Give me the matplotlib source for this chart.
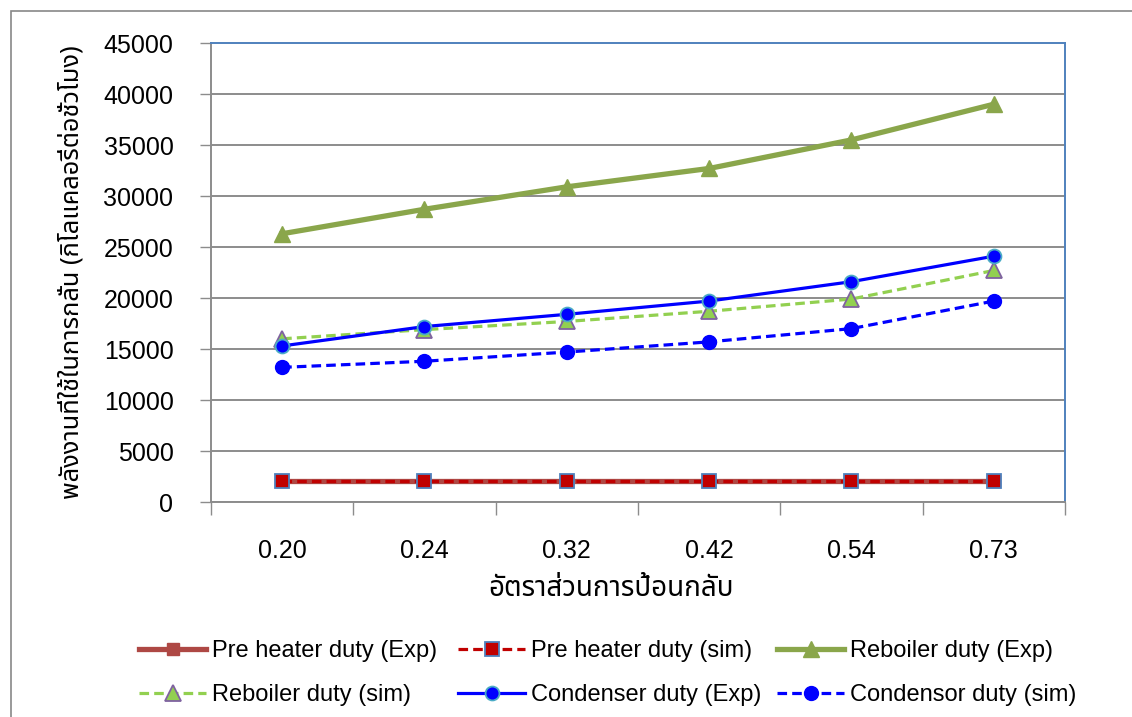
import matplotlib
matplotlib.use('Agg')
import matplotlib.pyplot as plt
from matplotlib import font_manager
from matplotlib.ft2font import FT2Font
from matplotlib.patches import Rectangle

# ---------------- data ----------------
categories = ['0.20', '0.24', '0.32', '0.42', '0.54', '0.73']
preheater_exp = [2100, 2100, 2100, 2100, 2100, 2100]
preheater_sim = [2100, 2100, 2100, 2100, 2100, 2100]
reboiler_exp = [26300, 28700, 30900, 32700, 35500, 39000]
reboiler_sim = [16000, 16900, 17700, 18700, 19900, 22700]
condenser_exp = [15300, 17200, 18400, 19700, 21600, 24100]
condensor_sim = [13200, 13800, 14700, 15700, 17000, 19700]
y_ticks = [0, 5000, 10000, 15000, 20000, 25000, 30000, 35000, 40000, 45000]
x_title = 'อัตราส่วนการป้อนกลับ'
y_title = 'พลังงานที่ใช้ในการกลั่น (กิโลแคลอรี่ต่อชั่วโมง)'


def find_thai():
    prefs = ['Noto Sans Thai', 'Noto Sans Thai UI', 'Loma', 'Garuda', 'Sarabun',
             'Waree', 'Norasi', 'Kinnari', 'Tlwg Typo']
    names = {}
    for f in font_manager.fontManager.ttflist:
        try:
            cm = FT2Font(f.fname).get_charmap()
            if 0x0E01 in cm and 0x0E48 in cm:
                names.setdefault(f.name, f.fname)
        except Exception:
            pass
    for p in prefs:
        if p in names:
            return p
    return next(iter(names), None)


thai = find_thai()
latin = 'Liberation Sans'
thai_family = [thai, 'DejaVu Sans'] if thai else ['DejaVu Sans']
plt.rcParams['font.family'] = [latin, 'DejaVu Sans']

W, H = 1132, 717
fig = plt.figure(figsize=(W / 100, H / 100), dpi=100)

# outer chart border
fig.patches.append(Rectangle((11 / W, -0.2), 1.5, 1 - 11 / H + 0.2,
                             transform=fig.transFigure, fill=False,
                             edgecolor='#878787', lw=1.2))

ax = fig.add_axes([211 / W, 1 - 502 / H, (1065 - 211) / W, (502 - 43) / H])
x = list(range(len(categories)))

grid_c = '#8C8C8C'
for v in y_ticks[:-1]:
    ax.axhline(v, color=grid_c, lw=1.4, zorder=0)

# series
ax.plot(x, preheater_exp, color='#AE4844', lw=3.8, marker='s', ms=9,
        mfc='#AE4844', mec='#AE4844', label='Pre heater duty (Exp)', zorder=3)
ax.plot(x, preheater_sim, color='#C00000', lw=2.3, ls=(0, (3, 1.6)), marker='s', ms=10,
        mfc='#C00000', mec='#4F81BD', mew=1.3, label='Pre heater duty (sim)', zorder=4)
ax.plot(x, reboiler_exp, color='#8AA64B', lw=3.8, marker='^', ms=11,
        mfc='#8AA64B', mec='#8AA64B', label='Reboiler duty (Exp)', zorder=3)
ax.plot(x, reboiler_sim, color='#92D050', lw=2.3, ls=(0, (3, 1.6)), marker='^', ms=11,
        mfc='#92D050', mec='#7F62A0', mew=1.3, label='Reboiler duty (sim)', zorder=3)
ax.plot(x, condenser_exp, color='#0000FF', lw=2.3, marker='o', ms=10,
        mfc='#0000FF', mec='#4BACC6', mew=1.3, label='Condenser duty (Exp)', zorder=4)
ax.plot(x, condensor_sim, color='#0000FF', lw=2.3, ls=(0, (3, 1.6)), marker='o', ms=10,
        mfc='#0000FF', mec='#0000FF', label='Condensor duty (sim)', zorder=4)

ax.set_xlim(-0.5, len(categories) - 0.5)
ax.set_ylim(0, 45000)
ax.set_yticks(y_ticks)
ax.set_yticklabels([str(v) for v in y_ticks])
ax.set_xticks(x)
ax.set_xticklabels(categories)
ax.set_xticks([i - 0.5 for i in range(len(categories) + 1)], minor=True)
ax.tick_params(axis='x', which='major', length=0, pad=27, labelsize=18, colors='#000000')
ax.tick_params(axis='x', which='minor', length=9.5, width=1.0, color=grid_c, direction='out')
ax.tick_params(axis='y', length=8, width=1.0, color=grid_c, pad=19, labelsize=18)

for s in ['left', 'bottom']:
    ax.spines[s].set_color(grid_c)
    ax.spines[s].set_linewidth(1.4)
for s in ['top', 'right']:
    ax.spines[s].set_color('#4F81BD')
    ax.spines[s].set_linewidth(1.4)

ax.set_xlabel(x_title, family=thai_family, fontsize=20, labelpad=9)
ax.xaxis.set_label_coords((611 - 211) / (1065 - 211), -0.158)
ax.xaxis.label.set_va('top')
ax.set_ylabel(y_title, family=thai_family, fontsize=18.3, labelpad=14)

h, l = ax.get_legend_handles_labels()
columns = [[0, 3], [1, 4], [2, 5]]
col_x = [139, 458, 777]
for xs, idx in zip(col_x, columns):
    leg = fig.legend([h[i] for i in idx], [l[i] for i in idx], ncol=1, frameon=False,
                     loc='center left', bbox_to_anchor=(xs / W, 1 - 673 / H),
                     fontsize=17, borderpad=0, borderaxespad=0,
                     handlelength=2.84, handletextpad=0.25, labelspacing=0.92)

fig.savefig('out.png', dpi=100)
